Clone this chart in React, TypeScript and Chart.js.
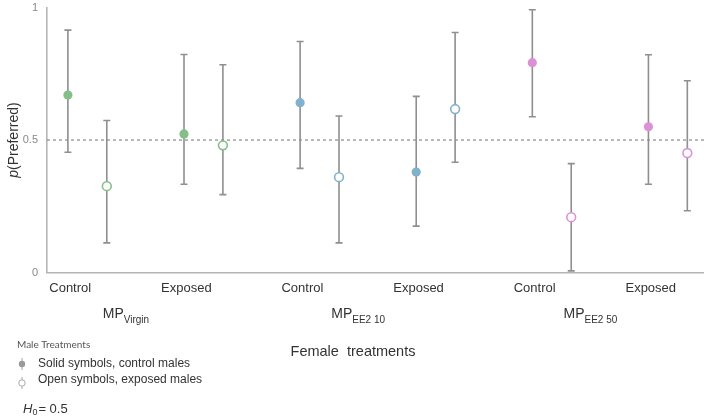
import React, { useEffect, useRef } from "react";
import { Chart, registerables } from "chart.js";

Chart.register(...registerables);

// ---- data ----
const categories = ["Control", "Exposed", "Control", "Exposed", "Control", "Exposed"];
const groupNames = ["Virgin", "EE2 10", "EE2 50"];
const solidMean = [0.670, 0.523, 0.641, 0.379, 0.792, 0.550];
const solidLow = [0.454, 0.333, 0.393, 0.175, 0.588, 0.333];
const solidHigh = [0.915, 0.823, 0.872, 0.665, 0.992, 0.822];
const openMean = [0.326, 0.480, 0.360, 0.617, 0.209, 0.451];
const openLow = [0.112, 0.294, 0.112, 0.416, 0.006, 0.233];
const openHigh = [0.574, 0.784, 0.591, 0.906, 0.411, 0.724];
const yTicks = [0, 0.5, 1];
const yTickLabels = ["0", "0.5", "1"];
const h0 = 0.5;

const groupColors = ["#83bf86", "#80b1cd", "#dc90d8"];
const OPEN_OFFSET = 0.335;
const FONT = "'Liberation Sans', Arial, sans-serif";

const colorFor = (i: number) => groupColors[Math.floor(i / 2)];

const errorBarPlugin = {
  id: "errorBars",
  beforeDatasetsDraw(chart: any) {
    const { ctx, chartArea, scales } = chart;
    const x = scales.x;
    const y = scales.y;
    // H0 dashed line
    ctx.save();
    ctx.strokeStyle = "#8a8a8a";
    ctx.lineWidth = 1.2;
    ctx.setLineDash([3, 3]);
    const yy = y.getPixelForValue(h0);
    ctx.beginPath();
    ctx.moveTo(chartArea.left, yy);
    ctx.lineTo(chartArea.right + 2, yy);
    ctx.stroke();
    ctx.setLineDash([]);
    ctx.strokeStyle = "#8f8f8f";
    ctx.lineWidth = 1.6;
    const bars = (means: number[], lo: number[], hi: number[], off: number) => {
      means.forEach((_, i) => {
        const px = x.getPixelForValue(i + off);
        const p1 = y.getPixelForValue(lo[i]);
        const p2 = y.getPixelForValue(hi[i]);
        ctx.beginPath();
        ctx.moveTo(px, p1);
        ctx.lineTo(px, p2);
        ctx.moveTo(px - 3.5, p1);
        ctx.lineTo(px + 3.5, p1);
        ctx.moveTo(px - 3.5, p2);
        ctx.lineTo(px + 3.5, p2);
        ctx.stroke();
      });
    };
    bars(solidMean, solidLow, solidHigh, 0);
    bars(openMean, openLow, openHigh, OPEN_OFFSET);
    ctx.restore();
  },
};

const textPlugin = {
  id: "texts",
  afterDraw(chart: any) {
    const { ctx, scales } = chart;
    const x = scales.x;
    const y = scales.y;
    ctx.save();
    ctx.fillStyle = "#333";
    ctx.textBaseline = "middle";
    // y title
    ctx.save();
    const cy = (y.getPixelForValue(0) + y.getPixelForValue(1)) / 2;
    ctx.translate(14, cy);
    ctx.rotate(-Math.PI / 2);
    ctx.font = `italic 14px ${FONT}`;
    const wp = ctx.measureText("p").width;
    ctx.font = `14px ${FONT}`;
    const wr = ctx.measureText("(Preferred)").width;
    const sx = -(wp + wr) / 2;
    ctx.textAlign = "left";
    ctx.font = `italic 14px ${FONT}`;
    ctx.fillText("p", sx, 0);
    ctx.font = `14px ${FONT}`;
    ctx.fillText("(Preferred)", sx + wp, 0);
    ctx.restore();

    // group labels
    ctx.textAlign = "left";
    groupNames.forEach((g, gi) => {
      const cx = x.getPixelForValue(gi * 2 + 0.5);
      ctx.font = `14px ${FONT}`;
      const w1 = ctx.measureText("MP").width;
      ctx.font = `10px ${FONT}`;
      const w2 = ctx.measureText(g).width;
      const left = cx - (w1 + w2) / 2;
      ctx.font = `14px ${FONT}`;
      ctx.fillText("MP", left, 314);
      ctx.font = `10px ${FONT}`;
      ctx.fillText(g, left + w1, 320);
    });

    // axis title
    ctx.font = `14.5px ${FONT}`;
    ctx.textAlign = "center";
    ctx.fillText("Female  treatments", 353, 352);

    // legend
    ctx.textAlign = "left";
    ctx.fillStyle = "#555";
    ctx.font = `10px Lato, sans-serif`;
    ctx.fillText("Male Treatments", 17, 345);
    ctx.fillStyle = "#333";
    ctx.font = `12px ${FONT}`;
    ctx.fillText("Solid symbols, control males", 38, 364);
    ctx.fillText("Open symbols, exposed males", 38, 380);
    // icons
    ctx.strokeStyle = "#aaa";
    ctx.lineWidth = 1;
    const icon = (cx: number, cyy: number, filled: boolean) => {
      ctx.beginPath();
      ctx.moveTo(cx, cyy - 6);
      ctx.lineTo(cx, cyy + 6);
      ctx.stroke();
      ctx.beginPath();
      ctx.arc(cx, cyy, 3.2, 0, Math.PI * 2);
      if (filled) {
        ctx.fillStyle = "#9a9a9a";
        ctx.fill();
      } else {
        ctx.fillStyle = "#fff";
        ctx.fill();
        ctx.stroke();
      }
    };
    icon(22, 364, true);
    icon(22, 383, false);

    // H0
    ctx.fillStyle = "#333";
    ctx.font = `italic 13px ${FONT}`;
    ctx.fillText("H", 23, 409);
    const wh = ctx.measureText("H").width;
    ctx.font = `9px ${FONT}`;
    ctx.fillText("0", 23 + wh, 413);
    const w0 = ctx.measureText("0").width;
    ctx.font = `13px ${FONT}`;
    ctx.fillText("= " + h0, 23 + wh + w0 + 1, 409);
    ctx.restore();
  },
};

export default function App() {
  const ref = useRef<HTMLCanvasElement>(null);
  useEffect(() => {
    if (!ref.current) return;
    const chart = new Chart(ref.current, {
      type: "scatter",
      data: {
        datasets: [
          {
            label: "Solid symbols, control males",
            data: solidMean.map((v, i) => ({ x: i, y: v })),
            pointBackgroundColor: solidMean.map((_, i) => colorFor(i)),
            pointBorderColor: solidMean.map((_, i) => colorFor(i)),
            pointRadius: 4.6,
            pointBorderWidth: 0,
          },
          {
            label: "Open symbols, exposed males",
            data: openMean.map((v, i) => ({ x: i + OPEN_OFFSET, y: v })),
            pointBackgroundColor: "#ffffff",
            pointBorderColor: openMean.map((_, i) => colorFor(i)),
            pointRadius: 4.4,
            pointBorderWidth: 1.6,
          },
        ],
      },
      plugins: [errorBarPlugin, textPlugin],
      options: {
        animation: false,
        responsive: true,
        maintainAspectRatio: false,
        layout: { padding: { top: 0, right: 4, left: 0, bottom: 0 } },
        plugins: { legend: { display: false }, tooltip: { enabled: false } },
        scales: {
          x: {
            type: "linear",
            min: -0.18,
            max: 5.47,
            grid: { display: false },
            border: { display: true, color: "#b5b5b5", width: 1.6 },
            afterBuildTicks: (scale: any) => {
              scale.ticks = categories.map((_, i) => ({ value: i + 0.02 }));
            },
            afterFit: (scale: any) => {
              scale.height = 145.5;
            },
            ticks: {
              autoSkip: false,
              maxRotation: 0,
              padding: 0,
              color: "#333",
              font: { family: FONT, size: 13 },
              callback: (_v: any, i: number) => categories[i],
            },
          },
          y: {
            min: 0,
            max: 1,
            grid: { display: false },
            border: { display: true, color: "#b5b5b5", width: 1.6 },
            afterBuildTicks: (scale: any) => {
              scale.ticks = yTicks.map((v) => ({ value: v }));
            },
            afterFit: (scale: any) => {
              scale.width = 47;
            },
            ticks: {
              padding: 1,
              color: "#888",
              font: { family: FONT, size: 11 },
              callback: (_v: any, i: number) => yTickLabels[i],
            },
          },
        },
      },
    });
    return () => chart.destroy();
  }, []);
  return (
    <div style={{ position: "absolute", left: 0, top: 0, width: 709, height: 418, background: "#fff" }}>
      <canvas ref={ref} />
    </div>
  );
}
